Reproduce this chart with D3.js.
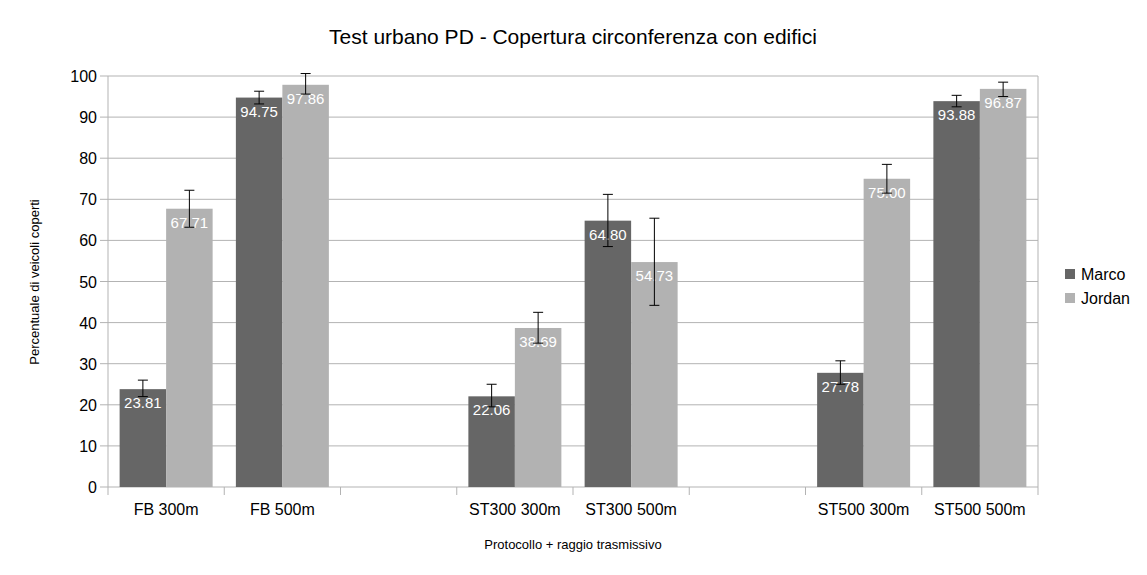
<!DOCTYPE html>
<html><head><meta charset="utf-8">
<script src="https://cdn.jsdelivr.net/npm/d3@7"></script>
<style>body{margin:0;background:#fff;font-family:"Liberation Sans",Arial,sans-serif}</style>
</head><body>
<script>
const categories = ["FB 300m", "FB 500m", "gap1", "ST300 300m", "ST300 500m", "gap2", "ST500 300m", "ST500 500m"];
const seriesNames = ["Marco", "Jordan"];
const marco = [23.81, 94.75, null, 22.06, 64.80, null, 27.78, 93.88];
const jordan = [67.71, 97.86, null, 38.69, 54.73, null, 75.00, 96.87];
const marcoErr = [[22, 26], [93.2, 96.3], null, [19.5, 25], [58.5, 71.2], null, [25, 30.7], [92.5, 95.3]];
const jordanErr = [[63.2, 72.2], [95.6, 100.6], null, [35, 42.5], [44.2, 65.4], null, [71.5, 78.5], [95, 98.5]];
const yTicks = d3.range(0, 101, 10);
const colors = ["#666666", "#b2b2b2"];

const W = 1147, H = 575, m = {l: 108, r: 1038, t: 76, b: 487};
const svg = d3.select("body").append("svg").attr("width", W).attr("height", H);
const x = d3.scaleBand().domain(categories).range([m.l, m.r]);
const inner = d3.scaleBand().domain(seriesNames).range([0, x.bandwidth()]).paddingInner(0).paddingOuter(0.25);
const y = d3.scaleLinear().domain([0, 100]).range([m.b, m.t]);

// grid
svg.append("g").selectAll("line").data(yTicks).join("line")
  .attr("x1", m.l - 8).attr("x2", m.r).attr("y1", d => y(d)).attr("y2", d => y(d))
  .attr("stroke", "#b3b3b3");
svg.append("g").selectAll("text").data(yTicks).join("text")
  .attr("x", m.l - 11).attr("y", d => y(d) + 6).attr("text-anchor", "end")
  .attr("font-size", 16).text(d => d);
svg.append("line").attr("x1", m.l).attr("x2", m.l).attr("y1", m.t).attr("y2", m.b).attr("stroke", "#b3b3b3");
svg.append("line").attr("x1", m.r).attr("x2", m.r).attr("y1", m.t).attr("y2", m.b).attr("stroke", "#b3b3b3");
// category boundaries
const bounds = categories.map(c => x(c)).concat([m.r]);
svg.append("g").selectAll("line").data(bounds).join("line")
  .attr("x1", d => d).attr("x2", d => d).attr("y1", m.b).attr("y2", m.b + 8).attr("stroke", "#b3b3b3");
svg.append("g").selectAll("text").data(categories.filter(c => !c.startsWith("gap"))).join("text")
  .attr("x", c => x(c) + x.bandwidth() / 2).attr("y", m.b + 28).attr("text-anchor", "middle")
  .attr("font-size", 16).text(c => c);

const series = [marco, jordan];
const errs = [marcoErr, jordanErr];
series.forEach((vals, si) => {
  const data = categories.map((c, i) => ({c, v: vals[i], e: errs[si][i]})).filter(d => d.v != null);
  const g = svg.append("g");
  const bx = d => x(d.c) + inner(seriesNames[si]);
  g.selectAll("rect").data(data).join("rect")
    .attr("x", bx).attr("width", inner.bandwidth()).attr("y", d => y(d.v)).attr("height", d => y(0) - y(d.v))
    .attr("fill", colors[si]);
  g.selectAll("text").data(data).join("text")
    .attr("x", d => bx(d) + inner.bandwidth() / 2).attr("y", d => y(d.v) + 19)
    .attr("text-anchor", "middle").attr("fill", "#fff").attr("font-size", 15).text(d => d.v.toFixed(2));
  const eg = g.append("g").attr("stroke", "#000").attr("stroke-width", 1);
  data.forEach(d => {
    const cx = bx(d) + inner.bandwidth() / 2;
    eg.append("line").attr("x1", cx).attr("x2", cx).attr("y1", y(d.e[0])).attr("y2", y(d.e[1]));
    [0, 1].forEach(k => eg.append("line").attr("x1", cx - 5).attr("x2", cx + 5).attr("y1", y(d.e[k])).attr("y2", y(d.e[k])));
  });
});

svg.append("text").attr("x", 573).attr("y", 44).attr("text-anchor", "middle").attr("font-size", 21)
  .text("Test urbano PD - Copertura circonferenza con edifici");
svg.append("text").attr("x", 573).attr("y", 549).attr("text-anchor", "middle").attr("font-size", 13)
  .text("Protocollo + raggio trasmissivo");
svg.append("text").attr("transform", "translate(39,282) rotate(-90)").attr("text-anchor", "middle").attr("font-size", 13)
  .text("Percentuale di veicoli coperti");

const lg = svg.append("g").selectAll("g").data(seriesNames).join("g")
  .attr("transform", (d, i) => `translate(1065,${269 + i * 24})`);
lg.append("rect").attr("width", 10).attr("height", 10).attr("fill", (d, i) => colors[i]);
lg.append("text").attr("x", 16).attr("y", 11).attr("font-size", 16).text(d => d);
</script>
</body></html>
